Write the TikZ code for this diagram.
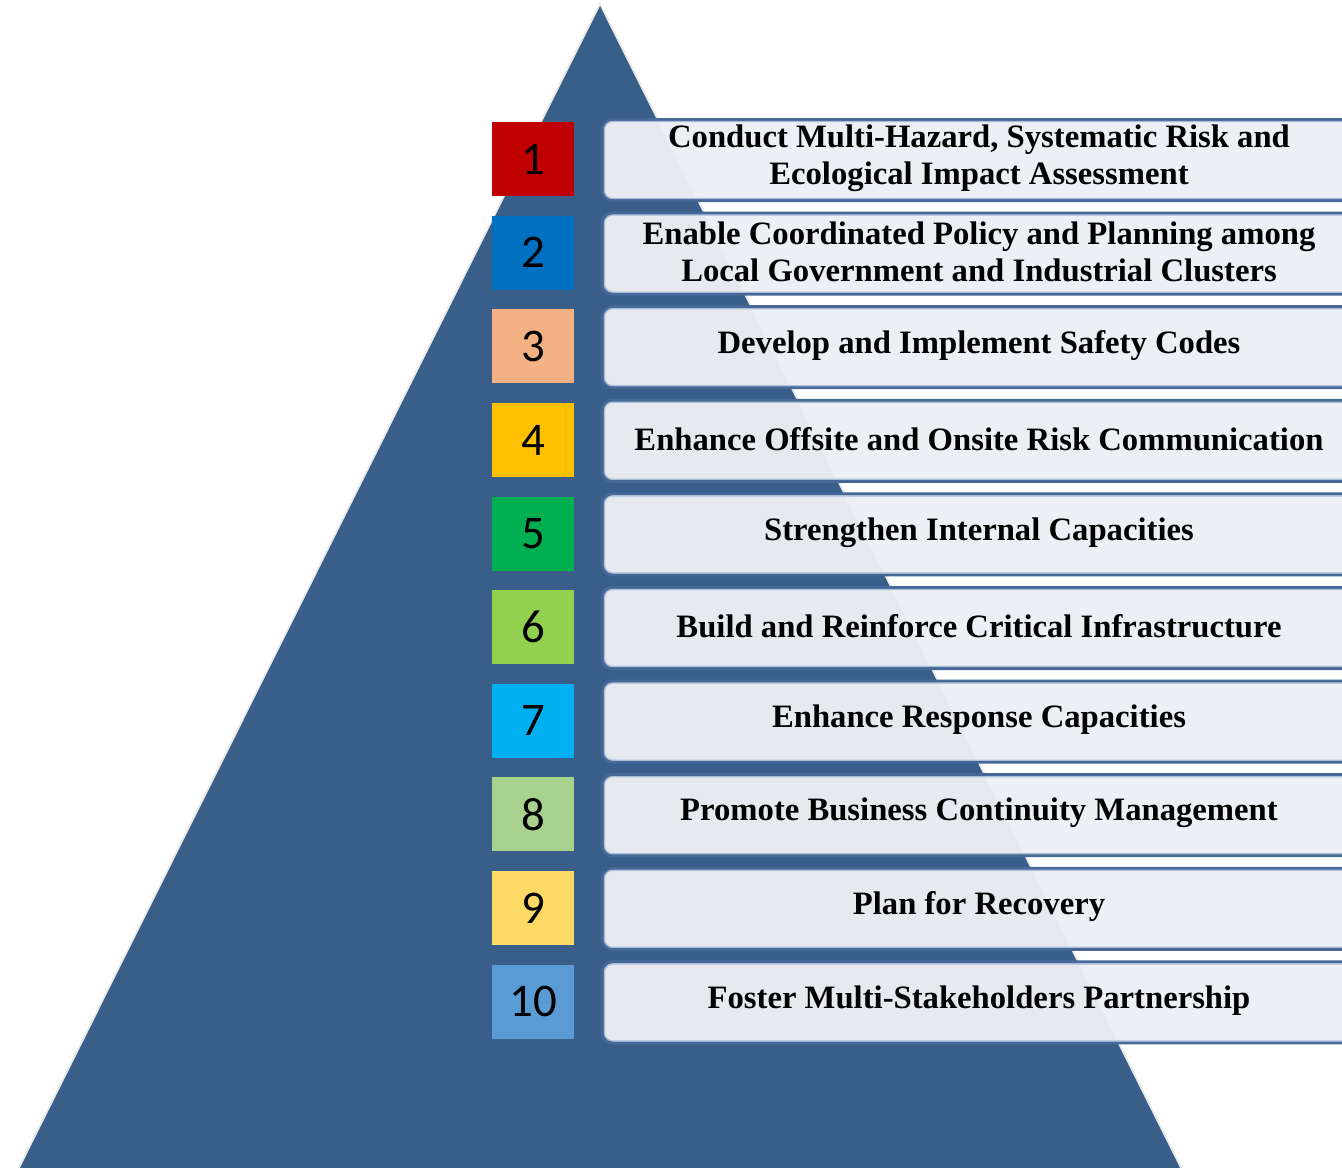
\documentclass[tikz,border=0pt]{standalone}
\usepackage{fontspec}
\newfontfamily\numfont{Carlito}
\newfontfamily\barfont{Liberation Serif}
\definecolor{tri}{HTML}{3A5E8A}
\definecolor{barline}{HTML}{46699A}
\definecolor{barinner}{HTML}{A9BCD8}
\definecolor{barfill}{HTML}{ECEFF3}
\definecolor{c1}{HTML}{C00000}
\definecolor{c2}{HTML}{0070C0}
\definecolor{c3}{HTML}{F4B183}
\definecolor{c4}{HTML}{FFC000}
\definecolor{c5}{HTML}{00B050}
\definecolor{c6}{HTML}{92D050}
\definecolor{c7}{HTML}{00B0F0}
\definecolor{c8}{HTML}{A9D18E}
\definecolor{c9}{HTML}{FFD966}
\definecolor{c10}{HTML}{5B9BD5}
\tikzset{
  numbox/.style={minimum width=82bp, minimum height=74bp, inner sep=0pt, anchor=north west,
    font=\numfont\fontsize{47}{47}\selectfont, text=black},
  barbox/.style={minimum width=760bp, minimum height=81bp, inner sep=0pt, anchor=north west,
    rounded corners=10bp, draw=barline, line width=3bp, fill=barfill, fill opacity=0.97},
  innerline/.style={draw=barinner, line width=1.2bp, rounded corners=8bp},
  bartext/.style={font=\barfont\bfseries\fontsize{32.8}{37.5}\selectfont, align=center, text=black, inner sep=0pt},
}
\begin{document}
\begin{tikzpicture}[x=1bp,y=-1bp]
\useasboundingbox (0,0) rectangle (1342,1167);
\clip (0,0) rectangle (1342,1167);
\fill[white] (0,0) rectangle (1342,1167);
% pyramid
\draw[draw=black!8, line width=4bp, fill=tri, line join=miter] (600,6) -- (1180,1168) -- (20,1168) -- cycle;
\fill[tri] (600,6) -- (1180,1168) -- (20,1168) -- cycle;
% rows
\foreach \i/\t in {
 1/{Conduct Multi-Hazard, Systematic Risk and\\Ecological Impact Assessment},
 2/{Enable Coordinated Policy and Planning among\\Local Government and Industrial Clusters},
 3/{Develop and Implement Safety Codes},
 4/{Enhance Offsite and Onsite Risk Communication},
 5/{Strengthen Internal Capacities},
 6/{Build and Reinforce Critical Infrastructure},
 7/{Enhance Response Capacities},
 8/{Promote Business Continuity Management},
 9/{Plan for Recovery},
 10/{Foster Multi-Stakeholders Partnership}}{
  \pgfmathsetmacro\by{118+93.6*(\i-1)}
  \pgfmathsetmacro\ny{122+93.6*(\i-1)}
  \node[numbox, fill=c\i] (n\i) at (492,\ny) {\i};
  \node[barbox] (b\i) at (601,\by) {};
  \draw[innerline] ([shift={(3.5,3.5)}]b\i.north west) rectangle ([shift={(20,-3.5)}]b\i.south east);
  \node[bartext] (t\i) at (979,\by+40) {\t};
}
\end{tikzpicture}
\end{document}
